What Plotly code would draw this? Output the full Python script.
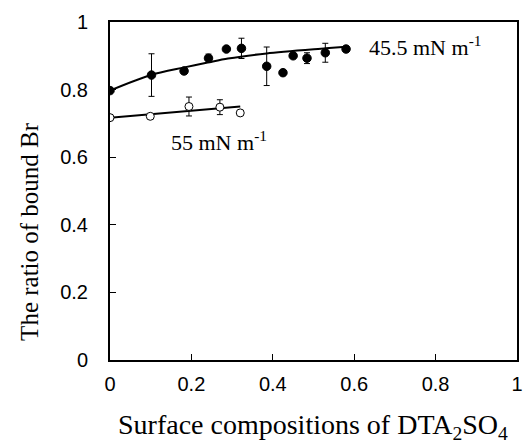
import plotly.graph_objects as go

# Filled circles: 45.5 mN m-1
x_455 = [0.0, 0.102, 0.182, 0.242, 0.286, 0.323, 0.385, 0.425, 0.450, 0.484, 0.529, 0.580]
y_455 = [0.797, 0.843, 0.855, 0.893, 0.920, 0.922, 0.869, 0.850, 0.900, 0.893, 0.909, 0.920]
err_455 = [0.0, 0.063, 0.008, 0.012, 0.0, 0.030, 0.057, 0.0, 0.0, 0.016, 0.028, 0.0]

# Open circles: 55 mN m-1
x_55 = [0.0, 0.099, 0.194, 0.270, 0.320]
y_55 = [0.717, 0.721, 0.750, 0.748, 0.731]
err_55 = [0.0, 0.006, 0.028, 0.022, 0.0]

# Fitted curves
fit455_x = [0.0, 0.10, 0.18, 0.24, 0.29, 0.385, 0.53, 0.58]
fit455_y = [0.797, 0.843, 0.865, 0.880, 0.892, 0.907, 0.922, 0.927]
fit55_x = [0.0, 0.32]
fit55_y = [0.717, 0.750]

x_ticks = [0, 0.2, 0.4, 0.6, 0.8, 1]
x_tick_text = ["0", "0.2", "0.4", "0.6", "0.8", "1"]
y_ticks = [0, 0.2, 0.4, 0.6, 0.8, 1]
y_tick_text = ["0", "0.2", "0.4", "0.6", "0.8", "1"]

serif = "Liberation Serif, Times New Roman, serif"
sans = "Liberation Sans, Arial, sans-serif"

L, R, T, B = 110, 5, 22, 84.5
W, H = 528, 445
pw = W - L - R
ph = H - T - B


def px(xp):
    return (xp - L) / pw


def py(yp):
    return (H - yp - B) / ph


fig = go.Figure()
fig.add_trace(go.Scatter(x=fit455_x, y=fit455_y, mode="lines",
                         line=dict(color="black", width=2, shape="spline", smoothing=0.8),
                         hoverinfo="skip", showlegend=False))
fig.add_trace(go.Scatter(x=fit55_x, y=fit55_y, mode="lines",
                         line=dict(color="black", width=2),
                         hoverinfo="skip", showlegend=False))
fig.add_trace(go.Scatter(x=x_455, y=y_455, mode="markers",
                         marker=dict(color="black", size=8.5, line=dict(color="black", width=1)),
                         error_y=dict(type="data", array=err_455, color="black", thickness=1, width=3),
                         showlegend=False))
fig.add_trace(go.Scatter(x=x_55, y=y_55, mode="markers",
                         marker=dict(color="white", size=8, line=dict(color="black", width=1)),
                         error_y=dict(type="data", array=err_55, color="black", thickness=1, width=3),
                         showlegend=False))

fig.update_layout(
    width=W, height=H,
    margin=dict(l=L, r=R, t=T, b=B),
    paper_bgcolor="white", plot_bgcolor="white",
    xaxis=dict(range=[0, 1], tickvals=x_ticks, ticktext=x_tick_text,
               ticks="inside", ticklen=6, tickcolor="black", tickwidth=1,
               showline=True, linecolor="black", linewidth=2, mirror=True,
               showgrid=False, zeroline=False, ticklabelstandoff=5,
               tickfont=dict(family=sans, size=20, color="black")),
    yaxis=dict(range=[0, 1], tickvals=y_ticks, ticktext=y_tick_text,
               ticks="inside", ticklen=6, tickcolor="black", tickwidth=1,
               showline=True, linecolor="black", linewidth=2, mirror=True,
               showgrid=False, zeroline=False, ticklabelstandoff=16,
               tickfont=dict(family=sans, size=20, color="black")),
    annotations=[
        dict(text="45.5 mN m<sup>-1</sup>", x=px(371), y=py(46), xref="paper", yref="paper",
             showarrow=False, xanchor="left", yanchor="middle",
             font=dict(family=serif, size=22, color="black")),
        dict(text="55 mN m<sup>-1</sup>", x=px(170), y=py(141), xref="paper", yref="paper",
             showarrow=False, xanchor="left", yanchor="middle",
             font=dict(family=serif, size=22, color="black")),
        dict(text="The ratio of bound Br", x=px(28), y=py(232), xref="paper", yref="paper",
             showarrow=False, textangle=-90, xanchor="center", yanchor="middle",
             font=dict(family=serif, size=25, color="#000000")),
        dict(text="Surface compositions of DTA<sub>2</sub>SO<sub>4</sub>", x=px(316), y=py(427),
             xref="paper", yref="paper", showarrow=False, xanchor="center", yanchor="middle",
             font=dict(family=serif, size=28, color="black")),
    ],
)

fig.write_html("out.html", config={"displayModeBar": False},
               post_script="document.body.style.margin='0';document.body.style.overflow='hidden';")
